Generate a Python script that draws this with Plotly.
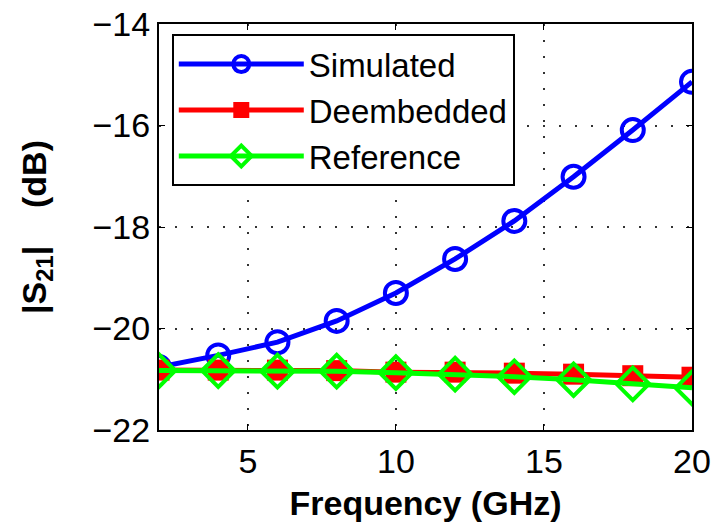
import plotly.graph_objects as go

freq = [2, 4, 6, 8, 10, 12, 14, 16, 18, 20]
simulated = [-20.76, -20.53, -20.27, -19.85, -19.30, -18.63, -17.88, -17.01, -16.09, -15.14]
deembedded = [-20.82, -20.82, -20.82, -20.83, -20.86, -20.86, -20.88, -20.90, -20.93, -20.96]
reference = [-20.83, -20.83, -20.84, -20.84, -20.87, -20.90, -20.95, -21.01, -21.09, -21.17]

x_ticks = [5, 10, 15, 20]
y_ticks = [-22, -20, -18, -16, -14]

FONT = "Liberation Sans, Arial, sans-serif"

fig = go.Figure()
fig.add_trace(go.Scatter(
    x=freq, y=simulated, name="Simulated", mode="lines+markers",
    line=dict(color="#0000ff", width=5),
    marker=dict(symbol="circle-open", size=22, color="#0000ff", line=dict(width=4, color="#0000ff")),
))
fig.add_trace(go.Scatter(
    x=freq, y=deembedded, name="Deembedded", mode="lines+markers",
    line=dict(color="#ff0000", width=5),
    marker=dict(symbol="square", size=21, color="#ff0000", line=dict(width=0)),
))
fig.add_trace(go.Scatter(
    x=freq, y=reference, name="Reference", mode="lines+markers",
    line=dict(color="#00ff00", width=5),
    marker=dict(symbol="diamond-open", size=25, color="#00ff00", line=dict(width=4, color="#00ff00")),
))

axis_common = dict(
    showline=True, linecolor="black", linewidth=2, mirror="ticks",
    ticks="inside", ticklen=6, tickwidth=1, tickcolor="black",
    showgrid=True, gridcolor="#333333", gridwidth=1.5, griddash="2px,14px",
    zeroline=False, tickfont=dict(family=FONT, size=34, color="black"),
    ticklabeloverflow="allow",
)

fig.update_xaxes(
    range=[2, 20], tickvals=x_ticks, ticktext=[str(v) for v in x_ticks],
    title=dict(text="<b>Frequency (GHz)</b>", font=dict(family=FONT, size=34, color="black"), standoff=12),
    **axis_common,
)
fig.update_yaxes(
    range=[-22, -14], tickvals=y_ticks, ticktext=["\u2212" + str(abs(v)) for v in y_ticks],
    title=dict(text="<b>|S<sub>21</sub>|&nbsp;&nbsp;&nbsp;&nbsp;(dB)</b>", font=dict(family=FONT, size=34, color="black"), standoff=36),
    **axis_common,
)

fig.update_layout(
    width=721, height=524,
    margin=dict(l=159, r=29, t=24, b=94, autoexpand=False),
    paper_bgcolor="white", plot_bgcolor="white",
    showlegend=True,
    legend=dict(
        x=0.024, y=0.975, xanchor="left", yanchor="top",
        bgcolor="white", bordercolor="black", borderwidth=2,
        font=dict(family=FONT, size=33, color="black"),
        itemwidth=125, tracegroupgap=0,
    ),
)

# remove the default 8px page margin so the figure sits at the window's top-left corner
fig.write_html("out.html", config={"displayModeBar": False},
               post_script="document.body.style.margin='0';")
